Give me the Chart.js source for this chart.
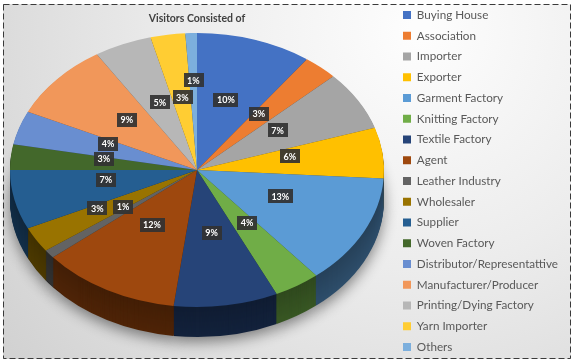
<!DOCTYPE html>
<html>
<head>
<meta charset="utf-8">
<title>Visitors Consisted of</title>
<script src="https://cdn.jsdelivr.net/npm/chart.js@4.4.0/dist/chart.umd.min.js"></script>
<style>
  html, body { margin: 0; padding: 0; background: #fff; }
</style>
</head>
<body>
<canvas id="visitorsCanvas" width="576" height="362"></canvas>
<script>
// visitor groups, clockwise from 12 o'clock
var groups = [
  'Buying House', 'Association', 'Importer', 'Exporter', 'Garment Factory',
  'Knitting Factory', 'Textile Factory', 'Agent', 'Leather Industry', 'Wholesaler',
  'Supplier', 'Woven Factory', 'Distributor/Representattive', 'Manufacturer/Producer',
  'Printing/Dying Factory', 'Yarn Importer', 'Others'
];
var shares = [10, 3, 7, 6, 13, 4, 9, 12, 1, 3, 7, 3, 4, 9, 5, 3, 1];
var sliceColors = [
  '#4472C4', '#ED7D31', '#A5A5A5', '#FFC000', '#5B9BD5',
  '#70AD47', '#264478', '#9E480E', '#636363', '#997300',
  '#255E91', '#43682B', '#698ED0', '#F1975A', '#B7B7B7',
  '#FFCD33', '#7CAFDD'
];

function shade(hex, f) {
  var n = parseInt(hex.slice(1), 16);
  var r = Math.round(((n >> 16) & 255) * f);
  var g = Math.round(((n >> 8) & 255) * f);
  var b = Math.round((n & 255) * f);
  return 'rgb(' + r + ',' + g + ',' + b + ')';
}

// page background + dashed frame
var frame = {
  id: 'frame',
  beforeDraw: function (chart) {
    var ctx = chart.ctx;
    ctx.save();
    var bg = ctx.createRadialGradient(420, 30, 10, 420, 30, 520);
    bg.addColorStop(0, '#fdfdfd');
    bg.addColorStop(0.45, '#ececec');
    bg.addColorStop(1, '#d2d2d2');
    ctx.fillStyle = bg;
    ctx.fillRect(3, 4, 568, 355);
    ctx.setLineDash([6, 3]);
    ctx.strokeStyle = '#3a3a3a';
    ctx.lineWidth = 1;
    ctx.strokeRect(3.5, 4.5, 567, 354);
    ctx.restore();
  }
};

// squash the pie into a tilted disc with a dark rim
function discTransform(chart, ctx, o, dy) {
  var arc = chart.getDatasetMeta(0).data[0];
  ctx.translate(o.cx, o.cy + dy);
  ctx.scale(o.rx / arc.outerRadius, o.ry / arc.outerRadius);
  ctx.translate(-arc.x, -arc.y);
}

var pie3d = {
  id: 'pie3d',
  beforeDatasetsDraw: function (chart, args, o) {
    var ctx = chart.ctx;
    var arcs = chart.getDatasetMeta(0).data;
    for (var d = o.depth; d >= 1; d--) {
      ctx.save();
      if (d === o.depth) {
        ctx.shadowColor = 'rgba(0,0,0,0.45)';
        ctx.shadowBlur = 14;
        ctx.shadowOffsetY = 5;
      }
      discTransform(chart, ctx, o, d);
      arcs.forEach(function (arc, i) {
        ctx.beginPath();
        ctx.moveTo(arc.x, arc.y);
        ctx.arc(arc.x, arc.y, arc.outerRadius, arc.startAngle, arc.endAngle);
        ctx.closePath();
        ctx.fillStyle = shade(sliceColors[i], 0.42 + 0.08 * (d / o.depth));
        ctx.fill();
      });
      ctx.restore();
    }
    ctx.save();
    discTransform(chart, ctx, o, 0);
  },
  afterDatasetsDraw: function (chart, args, o) {
    var ctx = chart.ctx;
    ctx.restore();
    var arcs = chart.getDatasetMeta(0).data;
    var total = shares.reduce(function (a, b) { return a + b; }, 0);
    var placed = [];
    ctx.save();
    ctx.font = 'bold 9px Lato';
    ctx.textAlign = 'center';
    ctx.textBaseline = 'middle';
    arcs.forEach(function (arc, i) {
      var txt = Math.round(shares[i] / total * 100) + '%';
      var w = ctx.measureText(txt).width + 7, h = 14;
      var mid = (arc.startAngle + arc.endAngle) / 2;
      var f = 0.5, x, y, hit;
      do {
        x = o.cx + Math.cos(mid) * o.rx * f;
        y = o.cy + o.labelDy + Math.sin(mid) * o.ry * f;
        hit = placed.some(function (p) {
          return Math.abs(p.x - x) < (p.w + w) / 2 && Math.abs(p.y - y) < (p.h + h) / 2;
        });
        f += 0.04;
      } while (hit && f < 0.95);
      placed.push({x: x, y: y, w: w, h: h});
      ctx.fillStyle = 'rgba(50,50,50,0.92)';
      ctx.fillRect(Math.round(x - w / 2), Math.round(y - h / 2), Math.round(w), h);
      ctx.fillStyle = '#ffffff';
      ctx.fillText(txt, x, y + 0.5);
    });
    ctx.restore();
  }
};

new Chart(document.getElementById('visitorsCanvas'), {
  type: 'pie',
  data: {
    labels: groups,
    datasets: [{
      data: shares,
      backgroundColor: sliceColors,
      borderWidth: 0
    }]
  },
  options: {
    responsive: false,
    animation: false,
    events: [],
    layout: { padding: { left: 0, right: 8, top: 0, bottom: 0 } },
    plugins: {
      title: {
        display: true,
        text: 'Visitors Consisted of',
        fullSize: false,
        color: '#404040',
        font: { family: 'Lato', size: 10.5, weight: 'bold' },
        padding: { top: 12, bottom: 6 }
      },
      legend: {
        position: 'right',
        labels: {
          boxWidth: 8,
          boxHeight: 8,
          padding: 9.05,
          color: '#595959',
          font: { family: 'Lato', size: 11.7 }
        }
      },
      tooltip: { enabled: false },
      pie3d: { cx: 197, cy: 170, rx: 187, ry: 137, depth: 30, labelDy: -5 }
    }
  },
  plugins: [frame, pie3d]
});
</script>
</body>
</html>
